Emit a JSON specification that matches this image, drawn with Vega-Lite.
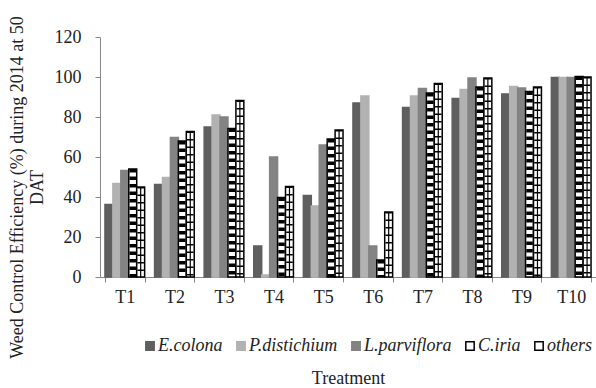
{
  "$schema": "https://vega.github.io/schema/vega-lite/v6.json",
  "width": 496,
  "height": 240,
  "autosize": "none",
  "padding": {"left": 100, "top": 37, "right": 0, "bottom": 111},
  "config": {"font": "Liberation Serif", "view": {"stroke": null}, "background": "white"},
  "data": {"values": [
    {"treatment": "T1", "species": "E.colona", "value": 36.3},
    {"treatment": "T1", "species": "P.distichium", "value": 46.7},
    {"treatment": "T1", "species": "L.parviflora", "value": 53.3},
    {"treatment": "T1", "species": "C.iria", "value": 54},
    {"treatment": "T1", "species": "others", "value": 45},
    {"treatment": "T2", "species": "E.colona", "value": 46.2},
    {"treatment": "T2", "species": "P.distichium", "value": 49.7},
    {"treatment": "T2", "species": "L.parviflora", "value": 69.7},
    {"treatment": "T2", "species": "C.iria", "value": 68},
    {"treatment": "T2", "species": "others", "value": 72.7},
    {"treatment": "T3", "species": "E.colona", "value": 75},
    {"treatment": "T3", "species": "P.distichium", "value": 81},
    {"treatment": "T3", "species": "L.parviflora", "value": 80},
    {"treatment": "T3", "species": "C.iria", "value": 74.3},
    {"treatment": "T3", "species": "others", "value": 88.3},
    {"treatment": "T4", "species": "E.colona", "value": 15.5},
    {"treatment": "T4", "species": "P.distichium", "value": 1},
    {"treatment": "T4", "species": "L.parviflora", "value": 60},
    {"treatment": "T4", "species": "C.iria", "value": 39.8},
    {"treatment": "T4", "species": "others", "value": 45.2},
    {"treatment": "T5", "species": "E.colona", "value": 40.7},
    {"treatment": "T5", "species": "P.distichium", "value": 35.5},
    {"treatment": "T5", "species": "L.parviflora", "value": 66},
    {"treatment": "T5", "species": "C.iria", "value": 69},
    {"treatment": "T5", "species": "others", "value": 73.5},
    {"treatment": "T6", "species": "E.colona", "value": 87},
    {"treatment": "T6", "species": "P.distichium", "value": 90.5},
    {"treatment": "T6", "species": "L.parviflora", "value": 15.5},
    {"treatment": "T6", "species": "C.iria", "value": 8.5},
    {"treatment": "T6", "species": "others", "value": 32.5},
    {"treatment": "T7", "species": "E.colona", "value": 84.7},
    {"treatment": "T7", "species": "P.distichium", "value": 90.5},
    {"treatment": "T7", "species": "L.parviflora", "value": 94.3},
    {"treatment": "T7", "species": "C.iria", "value": 92},
    {"treatment": "T7", "species": "others", "value": 96.7},
    {"treatment": "T8", "species": "E.colona", "value": 89.2},
    {"treatment": "T8", "species": "P.distichium", "value": 93.7},
    {"treatment": "T8", "species": "L.parviflora", "value": 99.5},
    {"treatment": "T8", "species": "C.iria", "value": 95},
    {"treatment": "T8", "species": "others", "value": 99.5},
    {"treatment": "T9", "species": "E.colona", "value": 91.5},
    {"treatment": "T9", "species": "P.distichium", "value": 95.2},
    {"treatment": "T9", "species": "L.parviflora", "value": 94.5},
    {"treatment": "T9", "species": "C.iria", "value": 92.8},
    {"treatment": "T9", "species": "others", "value": 95},
    {"treatment": "T10", "species": "E.colona", "value": 99.7},
    {"treatment": "T10", "species": "P.distichium", "value": 99.7},
    {"treatment": "T10", "species": "L.parviflora", "value": 99.7},
    {"treatment": "T10", "species": "C.iria", "value": 100.3},
    {"treatment": "T10", "species": "others", "value": 100}
  ]},
  "encoding": {
    "x": {
      "field": "treatment", "type": "nominal",
      "sort": ["T1","T2","T3","T4","T5","T6","T7","T8","T9","T10"],
      "scale": {"paddingInner": 0.2, "paddingOuter": 0.1},
      "title": "Treatment",
      "axis": {
        "labelAngle": 0, "labelFontSize": 18, "labelColor": "#222", "labelPadding": 6,
        "tickBand": "extent", "tickSize": 5, "tickColor": "#888", "domainColor": "#888",
        "titleFontSize": 18, "titleFontWeight": "normal", "titleColor": "#222", "titlePadding": 63
      }
    },
    "xOffset": {
      "field": "species", "type": "nominal",
      "sort": ["E.colona","P.distichium","L.parviflora","C.iria","others"],
      "scale": {"domain": ["E.colona","P.distichium","L.parviflora","C.iria","others"], "paddingInner": 0, "paddingOuter": 0}
    },
    "y": {
      "field": "value", "type": "quantitative",
      "scale": {"domain": [0, 120], "nice": false},
      "title": ["Weed Control Efficiency (%) during 2014 at 50", "DAT"],
      "axis": {
        "values": [0, 20, 40, 60, 80, 100, 120], "grid": false,
        "labelFontSize": 18, "labelColor": "#222", "labelPadding": 14,
        "tickSize": 5, "tickColor": "#888", "domainColor": "#888",
        "titleFontSize": 18, "titleFontWeight": "normal", "titleColor": "#222",
        "titleLineHeight": 20, "titleX": -74, "titleY": 150, "titleBaseline": "bottom", "titleAlign": "center", "titleAngle": -90
      }
    }
  },
  "layer": [
    {
      "mark": {"type": "bar", "strokeWidth": 1.5},
      "encoding": {
        "fill": {
          "field": "species", "type": "nominal",
          "scale": {"domain": ["E.colona","P.distichium","L.parviflora","C.iria","others"], "range": ["#5f5f5f","#b2b2b2","#838383","#ffffff","#ffffff"]},
          "legend": {
            "orient": "none", "legendX": 41, "legendY": 300, "direction": "horizontal", "title": null,
            "labelFont": "Liberation Serif", "labelFontStyle": "italic", "labelFontSize": 18, "labelColor": "#222",
            "symbolType": "square", "symbolSize": 70, "symbolStrokeWidth": 1.5, "labelOffset": -1, "columnPadding": 9
          }
        },
        "stroke": {
          "field": "species", "type": "nominal",
          "scale": {"domain": ["E.colona","P.distichium","L.parviflora","C.iria","others"], "range": ["#5f5f5f","#b2b2b2","#838383","#000000","#000000"]}
        }
      }
    },
    {
      "transform": [{"filter": "datum.species === 'C.iria'"}],
      "mark": {"type": "rule", "color": "#000000", "strokeWidth": 6.5, "strokeDash": [3.5, 4]},
      "encoding": {"y2": {"datum": 0}}
    },
    {
      "transform": [{"filter": "datum.species === 'others'"}],
      "mark": {"type": "rule", "color": "#000000", "strokeWidth": 6.5, "strokeDash": [1.5, 6]},
      "encoding": {"y2": {"datum": 0}}
    },
    {
      "transform": [{"filter": "datum.species === 'others'"}],
      "mark": {"type": "rule", "color": "#000000", "strokeWidth": 1.2},
      "encoding": {"y2": {"datum": 0}}
    }
  ]
}
